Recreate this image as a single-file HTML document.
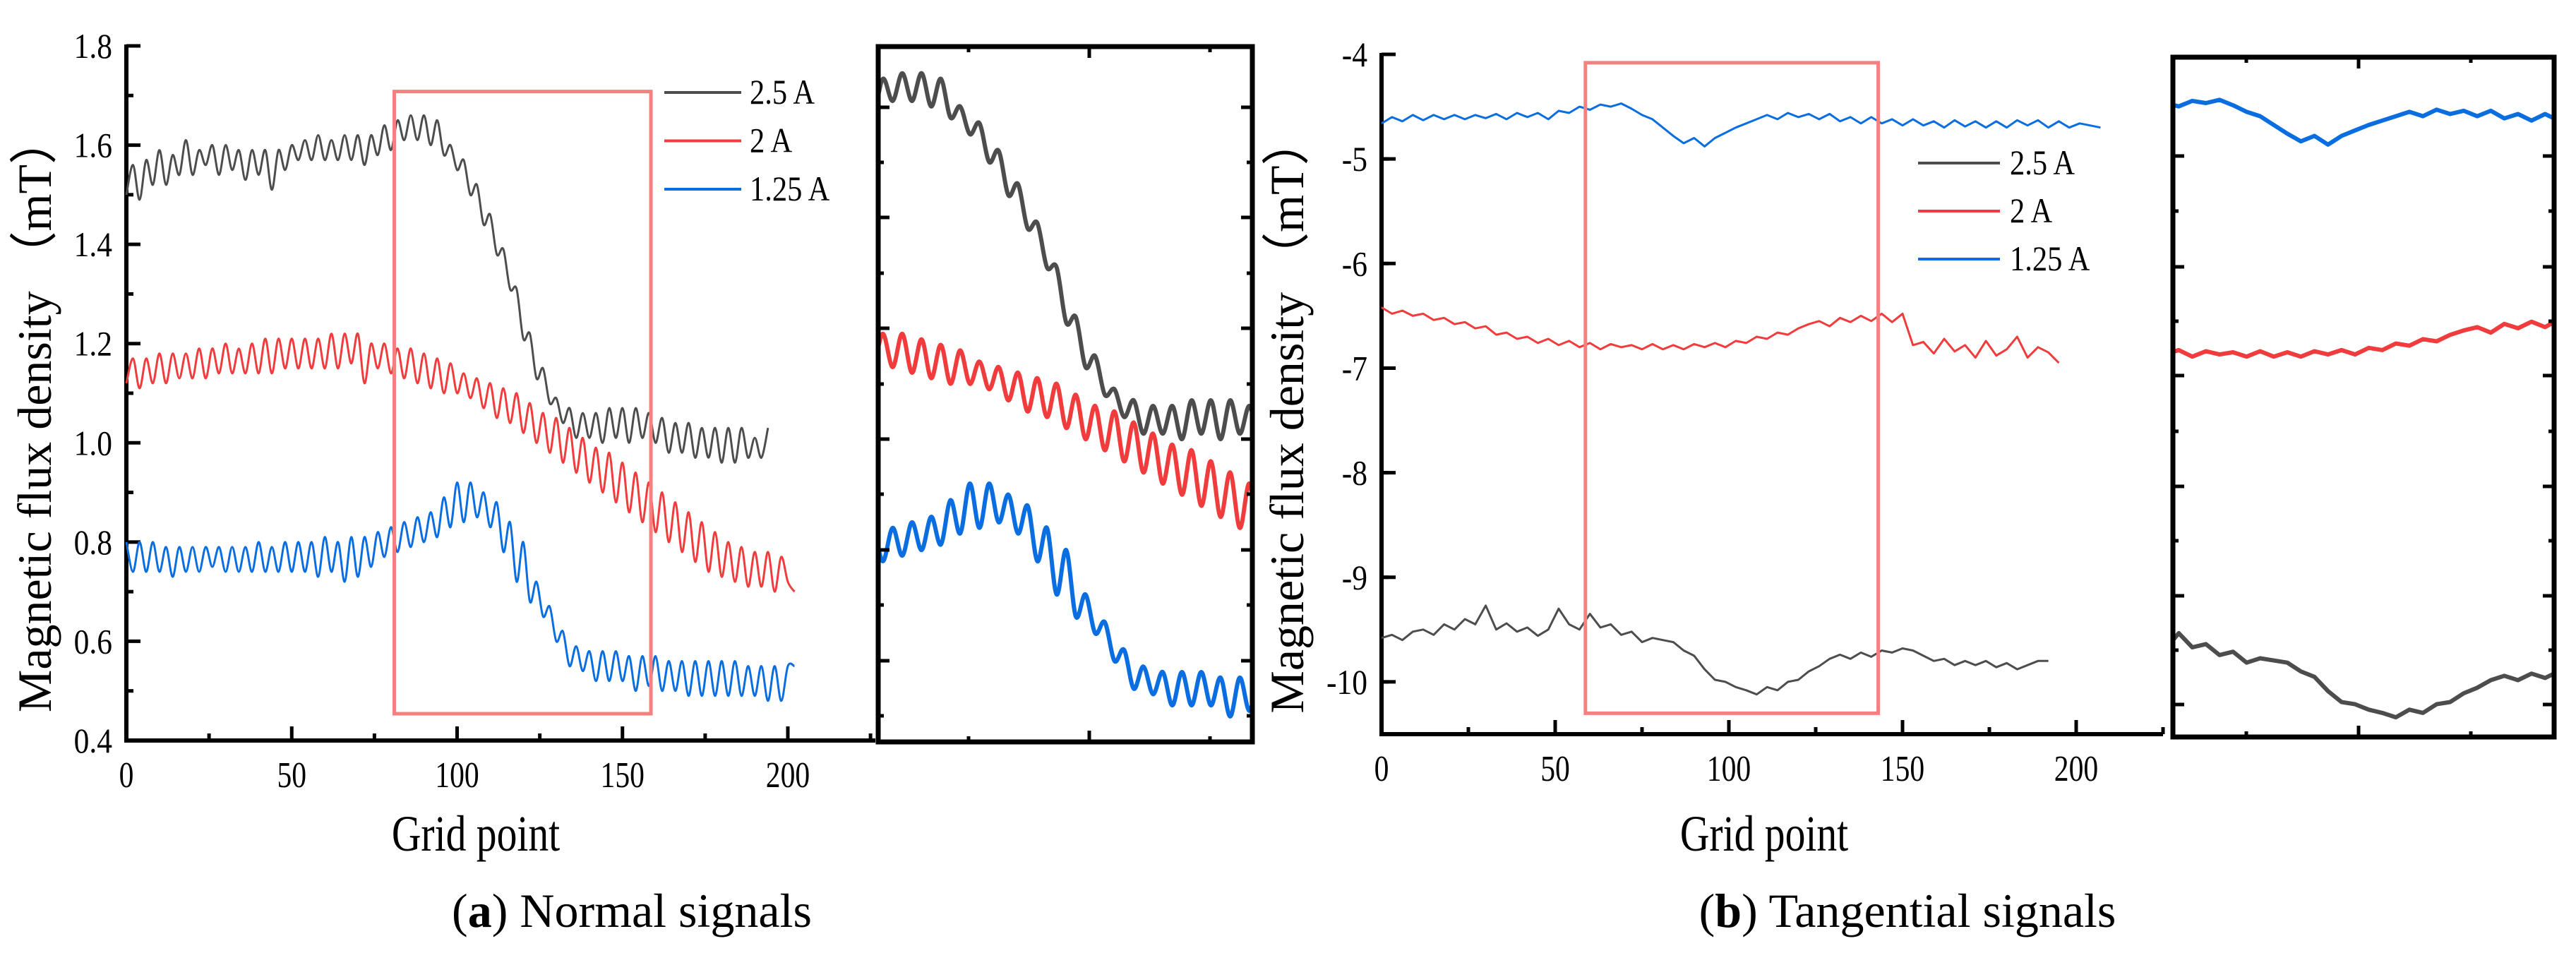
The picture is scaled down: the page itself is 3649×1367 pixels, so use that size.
<!DOCTYPE html>
<html><head><meta charset="utf-8"><style>
html,body{margin:0;padding:0;background:#fff}
svg{display:block}
text{font-family:"Liberation Serif",serif;fill:#000}
</style></head><body>
<svg id="fig" width="3649" height="1367" viewBox="0 0 3649 1367" xmlns="http://www.w3.org/2000/svg"></svg>
<script>
// ---------- data: panel (a) normal signals ----------
const aStep = 2;
const aBlack = [1.50,1.56,1.49,1.57,1.52,1.59,1.52,1.58,1.54,1.61,1.54,1.59,1.56,1.60,1.54,1.60,1.55,1.59,1.53,1.59,1.54,1.59,1.51,1.59,1.55,1.60,1.57,1.61,1.57,1.62,1.57,1.61,1.57,1.62,1.57,1.62,1.56,1.62,1.58,1.64,1.59,1.65,1.61,1.66,1.61,1.66,1.60,1.65,1.58,1.60,1.55,1.57,1.50,1.52,1.44,1.46,1.38,1.39,1.31,1.31,1.21,1.22,1.13,1.15,1.08,1.09,1.04,1.07,1.01,1.06,1.01,1.06,1.00,1.07,1.01,1.07,1.00,1.07,1.01,1.06,1.00,1.05,0.98,1.04,0.98,1.04,0.97,1.03,0.97,1.03,0.96,1.03,0.96,1.03,0.97,1.01,0.97,1.03];
const aRed = [1.12,1.17,1.11,1.17,1.12,1.18,1.12,1.18,1.13,1.18,1.13,1.19,1.13,1.19,1.14,1.20,1.14,1.19,1.14,1.20,1.14,1.21,1.14,1.21,1.15,1.21,1.15,1.21,1.15,1.21,1.15,1.22,1.15,1.22,1.16,1.22,1.12,1.20,1.15,1.20,1.14,1.19,1.13,1.19,1.12,1.18,1.11,1.17,1.10,1.16,1.10,1.14,1.09,1.13,1.07,1.12,1.05,1.11,1.04,1.10,1.02,1.08,1.00,1.06,0.98,1.05,0.96,1.03,0.94,1.01,0.92,0.99,0.90,0.98,0.88,0.96,0.86,0.94,0.84,0.92,0.82,0.90,0.80,0.88,0.78,0.86,0.76,0.84,0.74,0.82,0.73,0.80,0.72,0.79,0.71,0.78,0.71,0.78,0.70,0.77,0.72,0.70];
const aBlue = [0.80,0.74,0.80,0.74,0.80,0.74,0.79,0.73,0.79,0.74,0.79,0.74,0.79,0.75,0.79,0.74,0.79,0.74,0.79,0.74,0.80,0.74,0.79,0.74,0.80,0.74,0.80,0.74,0.80,0.73,0.81,0.74,0.80,0.72,0.81,0.73,0.81,0.75,0.82,0.77,0.83,0.78,0.84,0.79,0.85,0.80,0.86,0.81,0.89,0.83,0.92,0.84,0.92,0.85,0.90,0.83,0.88,0.78,0.84,0.72,0.80,0.68,0.72,0.65,0.67,0.60,0.62,0.55,0.59,0.54,0.58,0.52,0.58,0.52,0.58,0.52,0.57,0.50,0.57,0.51,0.57,0.50,0.56,0.50,0.56,0.49,0.56,0.49,0.56,0.49,0.56,0.49,0.56,0.49,0.55,0.49,0.55,0.48,0.55,0.48,0.55,0.55];
const aYTicks = ["0.4","0.6","0.8","1.0","1.2","1.4","1.6","1.8"];
const aXTicks = ["0","50","100","150","200"];
// ---------- data: panel (b) tangential signals ----------
const bStep = 3;
const bBlue = [-4.66,-4.60,-4.64,-4.58,-4.63,-4.58,-4.62,-4.58,-4.62,-4.58,-4.61,-4.57,-4.62,-4.56,-4.60,-4.56,-4.62,-4.54,-4.56,-4.50,-4.53,-4.48,-4.50,-4.47,-4.52,-4.58,-4.62,-4.70,-4.78,-4.85,-4.80,-4.88,-4.80,-4.75,-4.70,-4.66,-4.62,-4.58,-4.62,-4.56,-4.60,-4.57,-4.62,-4.57,-4.64,-4.60,-4.66,-4.60,-4.66,-4.62,-4.68,-4.62,-4.68,-4.64,-4.70,-4.63,-4.69,-4.64,-4.70,-4.64,-4.70,-4.63,-4.68,-4.63,-4.70,-4.64,-4.70,-4.66,-4.68,-4.70];
const bRed = [-6.42,-6.48,-6.45,-6.50,-6.48,-6.54,-6.52,-6.58,-6.56,-6.62,-6.60,-6.68,-6.66,-6.72,-6.70,-6.76,-6.72,-6.78,-6.74,-6.80,-6.76,-6.82,-6.77,-6.80,-6.78,-6.82,-6.77,-6.82,-6.78,-6.82,-6.77,-6.80,-6.76,-6.80,-6.74,-6.76,-6.70,-6.72,-6.66,-6.68,-6.62,-6.58,-6.55,-6.60,-6.52,-6.56,-6.50,-6.55,-6.48,-6.56,-6.48,-6.78,-6.75,-6.86,-6.72,-6.84,-6.78,-6.90,-6.74,-6.88,-6.82,-6.70,-6.90,-6.80,-6.85,-6.95];
const bBlack = [-9.58,-9.55,-9.60,-9.52,-9.50,-9.55,-9.45,-9.50,-9.40,-9.45,-9.27,-9.50,-9.44,-9.52,-9.48,-9.56,-9.50,-9.30,-9.45,-9.50,-9.35,-9.48,-9.45,-9.55,-9.52,-9.62,-9.58,-9.60,-9.62,-9.70,-9.75,-9.88,-9.98,-10.00,-10.05,-10.08,-10.12,-10.05,-10.08,-10.00,-9.98,-9.90,-9.85,-9.78,-9.74,-9.78,-9.72,-9.76,-9.70,-9.72,-9.68,-9.70,-9.75,-9.80,-9.78,-9.84,-9.80,-9.84,-9.80,-9.86,-9.82,-9.88,-9.84,-9.80,-9.80];
const bYTicks = ["-10","-9","-8","-7","-6","-5","-4"];
const bXTicks = ["0","50","100","150","200"];
const legendLabels = ["2.5 A","2 A","1.25 A"];
const COLORS = ["#4d4d4d","#f03c3c","#0a6ee0"];

const NS = "http://www.w3.org/2000/svg";
const svg = document.getElementById('fig');
function mk(tag, attrs, parent){ const e=document.createElementNS(NS,tag); for(const k in attrs) e.setAttribute(k,attrs[k]); (parent||svg).appendChild(e); return e; }
function txt(x,y,s,size,anchor,sx,name,parent){
  const g=mk('g',{transform:`translate(${x},${y}) scale(${sx},1)`},parent);
  const t=mk('text',{x:0,y:0,'font-size':size,'text-anchor':anchor},g);
  t.textContent=s;
  
  
  return t;
}
function smoothPath(pts){
  let d=`M${pts[0][0].toFixed(1)},${pts[0][1].toFixed(1)}`;
  for(let i=0;i<pts.length-1;i++){
    const p0=pts[Math.max(0,i-1)],p1=pts[i],p2=pts[i+1],p3=pts[Math.min(pts.length-1,i+2)];
    const c1x=p1[0]+(p2[0]-p0[0])/6,c1y=p1[1]+(p2[1]-p0[1])/6;
    const c2x=p2[0]-(p3[0]-p1[0])/6,c2y=p2[1]-(p3[1]-p1[1])/6;
    d+=`C${c1x.toFixed(1)},${c1y.toFixed(1)} ${c2x.toFixed(1)},${c2y.toFixed(1)} ${p2[0].toFixed(1)},${p2[1].toFixed(1)}`;
  }
  return d;
}
function drawSeries(vals, step, sx, sy, color, width, clipId, name, smooth){
  const pts=vals.map((v,i)=>[sx(i*step), sy(v)]);
  let d;
  if(smooth) d=smoothPath(pts); else d='M'+pts.map(p=>p[0].toFixed(1)+','+p[1].toFixed(1)).join('L');
  const attrs={d:d,fill:'none',stroke:color,'stroke-width':width,'stroke-linejoin':'round'};
  if(clipId) attrs['clip-path']=`url(#${clipId})`;
  const p=mk('path',attrs);
  
  
}
const defs=mk('defs',{});

function panel(cfg){
  const {x0,x1px,y0px,yTop,vMin,vMax,xMaxVal,axisEnd,series,step,yTicks,yMinorStep,rect,inset,insetTicksY,insetTicksX,legend,titleX,gridX,capX,capLetter,capText,smooth,pre} = cfg;
  const sx=v=>x0+(x1px-x0)*v/200;
  const sy=v=>y0px-(y0px-yTop)*(v-vMin)/(vMax-vMin);
  // axes
  const ax=mk('g',{});  
  mk('line',{x1:x0,y1:sy(vMax)-2,x2:x0,y2:y0px+3,stroke:'#000','stroke-width':6},ax);
  mk('line',{x1:x0-3,y1:y0px,x2:axisEnd,y2:y0px,stroke:'#000','stroke-width':6},ax);
  // x ticks
  for(let v=0; v<=xMaxVal; v+=25){
    const major=v%50===0;
    mk('line',{x1:sx(v),y1:y0px,x2:sx(v),y2:y0px-(major?20:10),stroke:'#000','stroke-width':5},ax);
  }
  bXTicksLabels(cfg, sx, y0px, ax);
  // y ticks
  yTicks.forEach((lab)=>{
    const v=parseFloat(lab);
    mk('line',{x1:x0,y1:sy(v),x2:x0+20,y2:sy(v),stroke:'#000','stroke-width':5},ax);
    txt(x0-20,sy(v)+17,lab,50,'end',0.87,pre+'-y-tick-label',ax);
  });
  for(let v=vMin+yMinorStep; v<vMax; v+=2*yMinorStep){
    mk('line',{x1:x0,y1:sy(v),x2:x0+10,y2:sy(v),stroke:'#000','stroke-width':5},ax);
  }
  // series
  const names=['series-2-5A','series-2A','series-1-25A'];
  series.forEach((s,i)=>drawSeries(s,step,sx,sy,COLORS[i],3,null,pre+'-'+names[i],smooth));
  // red zoom rectangle
  const r=mk('rect',{x:sx(rect[0]),y:sy(rect[3]),width:sx(rect[1])-sx(rect[0]),height:sy(rect[2])-sy(rect[3]),fill:'none',stroke:'#f58080','stroke-width':5});
  
  
  // legend
  const lg=mk('g',{});  
  legendLabels.forEach((l,i)=>{
    const y=legend.y+i*legend.dy;
    mk('line',{x1:legend.x1,y1:y,x2:legend.x2,y2:y,stroke:COLORS[i],'stroke-width':4},lg);
    txt(legend.tx,y+16,l,50,'start',0.85,pre+'-legend-label',lg);
  });
  // inset
  const [ix0,iy0,ix1,iy1]=inset;
  const cid=pre+'-clip';
  const cp=mk('clipPath',{id:cid},defs); mk('rect',{x:ix0,y:iy0,width:ix1-ix0,height:iy1-iy0},cp);
  const isx=v=>ix0+(ix1-ix0)*(v/1 - rect[0])/(rect[1]-rect[0]);
  const isy=v=>iy1-(iy1-iy0)*(v-rect[2])/(rect[3]-rect[2]);
  series.forEach((s,i)=>drawSeries(s,step,isx,isy,COLORS[i],6,cid,pre+'-inset-'+names[i],smooth));
  const ib=mk('rect',{x:ix0,y:iy0,width:ix1-ix0,height:iy1-iy0,fill:'none',stroke:'#000','stroke-width':7});
   
  insetTicksY.forEach((y,i)=>{
    const L=i%2===0?16:8;
    mk('line',{x1:ix0,y1:y,x2:ix0+L,y2:y,stroke:'#000','stroke-width':5});
    mk('line',{x1:ix1,y1:y,x2:ix1-L,y2:y,stroke:'#000','stroke-width':5});
  });
  insetTicksX.forEach((x,i)=>{
    const L=i%2===1?16:8;
    mk('line',{x1:x,y1:iy1,x2:x,y2:iy1-L,stroke:'#000','stroke-width':5});
    mk('line',{x1:x,y1:iy0,x2:x,y2:iy0+L,stroke:'#000','stroke-width':5});
  });
  // titles
  const yt=mk('text',{x:0,y:0,'font-size':68,'text-anchor':'middle',transform:`translate(${titleX},${(y0px+yTop)/2+30}) rotate(-90)`});
  yt.textContent='Magnetic flux density （mT）';
   
  yt.setAttribute('font-family','"Liberation Serif","Noto Serif CJK SC",serif');
  txt(gridX,1205,'Grid point',72,'middle',0.8,pre+'-x-axis-title');
  const cap=mk('text',{x:capX,y:1313,'font-size':68,'text-anchor':'middle'});
   
  cap.appendChild(document.createTextNode('('));
  const b=mk('tspan',{'font-weight':'bold'},cap); b.textContent=capLetter;
  cap.appendChild(document.createTextNode(') '+capText));
}
function bXTicksLabels(cfg,sx,y0px,ax){
  cfg.xTicks.forEach(l=>txt(sx(parseFloat(l)),y0px+66,l,52,'middle',0.8,cfg.pre+'-x-tick-label',ax));
}

panel({pre:'normal',x0:179,x1px:1116,y0px:1049,yTop:65,vMin:0.4,vMax:1.8,xMaxVal:225,axisEnd:1240,
  series:[aBlack,aRed,aBlue],step:aStep,yTicks:aYTicks,xTicks:aXTicks,yMinorStep:0.1,
  rect:[81,158.6,0.454,1.708],inset:[1244,66,1774,1051],
  insetTicksY:[152,230,308,387,465,544,622,700,779,857,936,1014],insetTicksX:[1372,1543,1714],
  legend:{x1:941,x2:1050,y:131,dy:68.5,tx:1062},titleX:72,gridX:674,capX:895,capLetter:'a',capText:'Normal signals',smooth:true});
panel({pre:'tangential',x0:1957,x1px:2941,y0px:1040,yTop:77,vMin:-10.5,vMax:-4,xMaxVal:225,axisEnd:3064,
  series:[bBlack,bRed,bBlue],step:bStep,yTicks:bYTicks,xTicks:bXTicks,yMinorStep:0.5,
  rect:[58.7,143,-10.3,-4.08],inset:[3078,81,3618,1044],
  insetTicksY:[221,299,378,455,532,611,689,766,844,921,998],insetTicksX:[3182,3341,3500],
  legend:{x1:2717,x2:2833,y:231,dy:68,tx:2847},titleX:1846,gridX:2499,capX:2702,capLetter:'b',capText:'Tangential signals',smooth:false});
</script>
</body></html>
